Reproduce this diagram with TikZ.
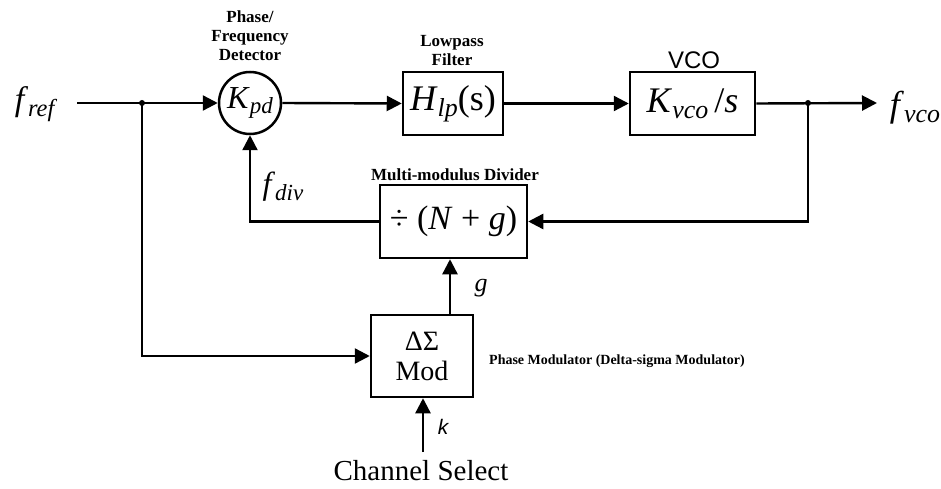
\documentclass[tikz,border=0pt]{standalone}
\usepackage{fontspec}
\setmainfont{Liberation Serif}
\setsansfont{Liberation Sans}
\usetikzlibrary{arrows.meta}
\newcommand{\fsz}[1]{\fontsize{#1}{#1}\selectfont}
\newcommand{\isub}[2]{\textit{#1}\raisebox{-0.35ex}{\scalebox{0.72}{\textit{#2}}}}
\begin{document}
\begin{tikzpicture}[x=1pt,y=-1pt,
  line width=2.4pt,
  arr/.style={-{Triangle[length=15pt,width=15pt]}},
  blk/.style={draw,line width=2.5pt,inner sep=0pt},
  small/.style={font=\fontsize{17}{19}\selectfont\bfseries,align=center,inner sep=0pt},
  lbl/.style={inner sep=0pt}]
\useasboundingbox (0,0) rectangle (941,489);
% nodes
\node[lbl,font=\fsz{34}] (fref) at (36,104) {\isub{f}{ref}};
\node[draw,circle,line width=2.5pt,minimum size=62pt,inner sep=0pt,font=\fsz{32}] (pd) at (250,103) {\isub{K}{pd}};
\node[small] (pdl) at (250,36) {Phase/\\Frequency\\Detector};
\node[blk,minimum width=100pt,minimum height=63pt,font=\fsz{36}] (lp) at (453,103.5) {\isub{H}{lp}(s)};
\node[small] (lpl) at (452,51) {Lowpass\\Filter};
\node[blk,minimum width=125pt,minimum height=63pt,font=\fsz{36}] (vco) at (692.5,103.5) {\isub{K}{vco}\,/\textit{s}};
\node[lbl,font=\sffamily\fsz{24}] (vcol) at (694,60) {VCO};
\node[lbl,font=\fsz{36}] (fvco) at (915,108) {\isub{f}{vco}};
\node[blk,minimum width=147pt,minimum height=73pt,font=\fsz{34}] (div) at (453.5,221.5) {÷ (\textit{N} + \textit{g})};
\node[small] (divl) at (455,175) {Multi-modulus Divider};
\node[blk,minimum width=102pt,minimum height=82pt,font=\fontsize{28}{30}\selectfont,align=center] (ds) at (422,356) {ΔΣ\\Mod};
\node[lbl,anchor=west,font=\fsz{14}\bfseries] (dsl) at (488,361) {Phase Modulator (Delta-sigma Modulator)};
\node[lbl,font=\fsz{29}] (ch) at (421,471) {Channel Select};
\node[lbl,font=\fsz{32}] (fdiv) at (283,187) {\isub{f}{div}};
\node[lbl,font=\itshape\fsz{26}] (gl) at (481,288) {g};
\node[lbl,font=\sffamily\itshape\fsz{21}] (kl) at (443,427) {k};
% coordinates
\coordinate (fin) at (77,103);
\coordinate (j1) at (142,103);
\coordinate (j2) at (808,103);
\coordinate (fout) at (877,103);
\coordinate (gx) at (450,300);
\coordinate (cs) at (423,452);
% connectors
\draw[arr] (fin) -- (pd.west);
\draw[arr] (pd.east) -- (lp.west);
\draw[arr] (lp.east) -- (vco.west);
\draw[arr] (vco.east) -- (fout);
\draw[arr] (j2) |- (div.east);
\draw[arr] (div.west) -| (pd.south);
\draw[arr] (j1) |- (ds.west);
\draw[arr] (ds.north -| gx) -- (div.south -| gx);
\draw[arr] (cs) -- (ds.south -| cs);
\fill (j1) circle (3pt);
\fill (j2) circle (3pt);
\end{tikzpicture}
\end{document}
